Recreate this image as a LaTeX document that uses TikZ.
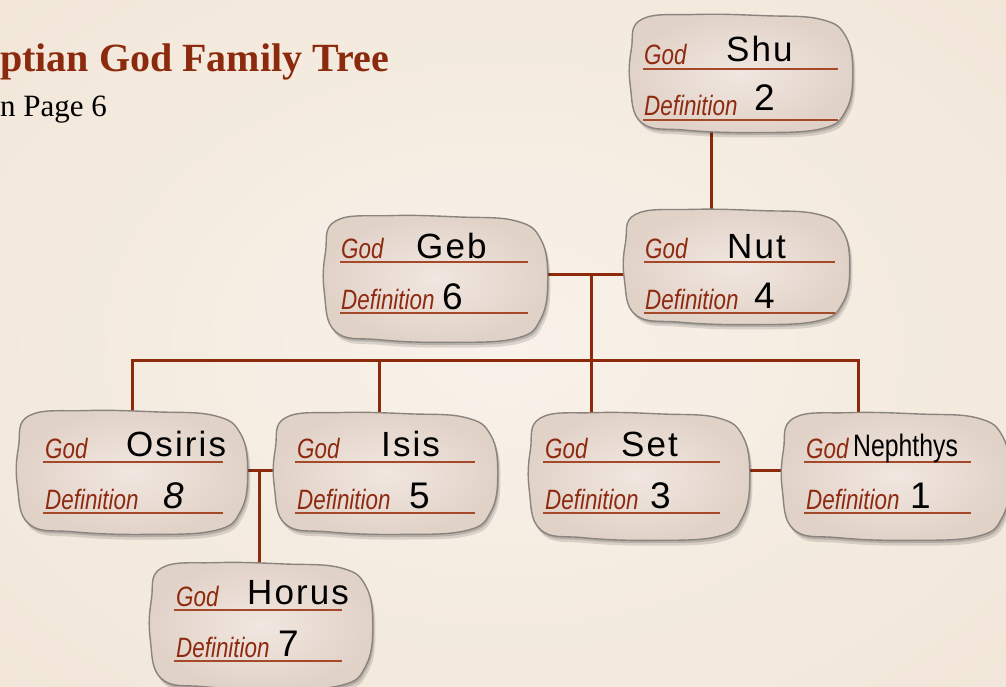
\documentclass[tikz,border=0pt]{standalone}
\usepackage{fontspec}
\setmainfont{Liberation Serif}
\newfontfamily\lblfont[FakeStretch=0.8]{Liberation Sans}
\newfontfamily\handfont[LetterSpace=6]{Liberation Sans}
\usetikzlibrary{calc}
\definecolor{bgc}{HTML}{F9F2EA}
\definecolor{bgd}{HTML}{F1E6D8}
\definecolor{titlered}{HTML}{8C2A0E}
\definecolor{lblred}{HTML}{8E2A10}
\definecolor{rulered}{HTML}{A44A2A}
\definecolor{linkred}{HTML}{8E2A0C}
\definecolor{stonein}{HTML}{F1E7E0}
\definecolor{stoneout}{HTML}{E1D2C8}
\definecolor{stoneedge}{HTML}{8A847E}
\tikzset{
  stonebox/.style={inner sep=0pt, draw=none},
  lbl/.style={anchor=base west, inner sep=0pt, text=lblred, font=\lblfont\itshape\fontsize{28}{28}\selectfont},
  hand/.style={anchor=base west, inner sep=0pt, text=black, font=\handfont\fontsize{35}{35}\selectfont},
  handnum/.style={hand, font=\handfont\fontsize{37}{37}\selectfont},
  rule/.style={draw=rulered, line width=1.2pt},
  link/.style={draw=linkred, line width=3pt},
}
\newcommand\stonepath[4]{%
  \begin{scope}[shift={(#1,#2)}, xscale=#3, yscale=#4]
    \fill[black, opacity=0.12, shift={(0.012,0.04)}] plot[smooth cycle, tension=0.7] coordinates {(0.06,0.06) (0.3,0.02) (0.6,0.03) (0.85,0.06) (0.96,0.2) (0.99,0.5) (0.96,0.8) (0.85,0.95) (0.55,0.98) (0.25,0.96) (0.06,0.9) (0.01,0.6) (0.015,0.3)};
    \fill[black, opacity=0.15, shift={(0.006,0.02)}] plot[smooth cycle, tension=0.7] coordinates {(0.06,0.06) (0.3,0.02) (0.6,0.03) (0.85,0.06) (0.96,0.2) (0.99,0.5) (0.96,0.8) (0.85,0.95) (0.55,0.98) (0.25,0.96) (0.06,0.9) (0.01,0.6) (0.015,0.3)};
    \shade[inner color=stonein, outer color=stoneout, draw=stoneedge, line width=1.4pt] plot[smooth cycle, tension=0.7] coordinates {(0.06,0.06) (0.3,0.02) (0.6,0.03) (0.85,0.06) (0.96,0.2) (0.99,0.5) (0.96,0.8) (0.85,0.95) (0.55,0.98) (0.25,0.96) (0.06,0.9) (0.01,0.6) (0.015,0.3)};
  \end{scope}}
\begin{document}
\begin{tikzpicture}[x=1pt,y=-1pt]
\useasboundingbox (0,0) rectangle (1006,687);
\shade[inner color=bgc, outer color=bgd] (-200,-150) rectangle (1206,837);
% titles
\node[anchor=base west, inner sep=0pt, text=titlered, font=\bfseries\fontsize{40}{40}\selectfont] (title) at (0,72) {ptian God Family Tree};
\node[anchor=base west, inner sep=0pt, text=black, font=\fontsize{31}{31}\selectfont] (sub) at (0,117) {n Page 6};
% stone anchor nodes
\node[stonebox, minimum width=227pt, minimum height=123pt] (shu) at (741.5,73.5) {};
\node[stonebox, minimum width=230pt, minimum height=120pt] (nut) at (737,267) {};
\node[stonebox, minimum width=228pt, minimum height=132pt] (geb) at (436,279) {};
\node[stonebox, minimum width=235pt, minimum height=129pt] (osiris) at (132.5,472.5) {};
\node[stonebox, minimum width=228pt, minimum height=127pt] (isis) at (386,473.5) {};
\node[stonebox, minimum width=225pt, minimum height=133pt] (set) at (639.5,476.5) {};
\node[stonebox, minimum width=232pt, minimum height=133pt] (nephthys) at (896,476.5) {};
\node[stonebox, minimum width=227pt, minimum height=130pt] (horus) at (261.5,625) {};
% junction coordinates
\coordinate (jshu) at (711,170);
\coordinate (jgn) at (591,274);
\coordinate (bar) at (591,360);
\coordinate (bl) at (132,360);
\coordinate (bi) at (379,360);
\coordinate (br) at (858,360);
\coordinate (joi) at (259,470);
\coordinate (jsn) at (766,470);
% connectors
\draw[link] ([yshift=12pt]shu.south -| jshu) -- ([yshift=-14pt]nut.north -| jshu);
\draw[link] ([xshift=-12pt]geb.east |- jgn) -- ([xshift=12pt]nut.west |- jgn);
\draw[link] (jgn) -- (bar);
\draw[link] ([yshift=-14pt]osiris.north -| bl) -- (bl) -- (br) -- ([yshift=-14pt]nephthys.north -| br);
\draw[link] (bi) -- ([yshift=-14pt]isis.north -| bi);
\draw[link] (bar) -- ([yshift=-14pt]set.north -| bar);
\draw[link] ([xshift=-12pt]osiris.east |- joi) -- ([xshift=12pt]isis.west |- joi);
\draw[link] (joi) -- ([yshift=-14pt]horus.north -| joi);
\draw[link] ([xshift=-12pt]set.east |- jsn) -- ([xshift=12pt]nephthys.west |- jsn);
% stones
\stonepath{628}{12}{227}{123}
\stonepath{622}{207}{230}{120}
\stonepath{322}{213}{228}{132}
\stonepath{15}{408}{235}{129}
\stonepath{272}{410}{228}{127}
\stonepath{527}{410}{225}{133}
\stonepath{780}{410}{232}{133}
\stonepath{148}{560}{227}{132}
% Shu
\draw[rule] (643,69) -- (838,69); \draw[rule] (643,120) -- (838,120);
\node[lbl] (shu-g) at (644,65) {God};
\node[lbl] (shu-d) at (644,116) {Definition};
\node[hand] (shu-n) at (726,62) {Shu};
\node[handnum] (shu-v) at (754,111) {2};
% Nut
\draw[rule] (644,262) -- (835,262); \draw[rule] (644,313) -- (835,313);
\node[lbl] (nut-g) at (645,258) {God};
\node[lbl] (nut-d) at (645,309) {Definition};
\node[hand] (nut-n) at (727,258) {Nut};
\node[handnum] (nut-v) at (754,308) {4};
% Geb
\draw[rule] (340,262) -- (528,262); \draw[rule] (340,313) -- (528,313);
\node[lbl] (geb-g) at (341,258) {God};
\node[lbl] (geb-d) at (341,309) {Definition};
\node[hand] (geb-n) at (416,258) {Geb};
\node[handnum] (geb-v) at (442,309) {6};
% Osiris
\draw[rule] (43,462) -- (223,462); \draw[rule] (43,513) -- (223,513);
\node[lbl] (osiris-g) at (45,458) {God};
\node[lbl] (osiris-d) at (45,509) {Definition};
\node[hand] (osiris-n) at (126,456) {Osiris};
\node[handnum, font=\handfont\itshape\fontsize{37}{37}\selectfont] (osiris-v) at (163,508) {8};
% Isis
\draw[rule] (295,462) -- (475,462); \draw[rule] (295,513) -- (475,513);
\node[lbl] (isis-g) at (297,458) {God};
\node[lbl] (isis-d) at (297,509) {Definition};
\node[hand] (isis-n) at (381,456) {Isis};
\node[handnum] (isis-v) at (409,508) {5};
% Set
\draw[rule] (543,462) -- (720,462); \draw[rule] (543,513) -- (720,513);
\node[lbl] (set-g) at (545,458) {God};
\node[lbl] (set-d) at (545,509) {Definition};
\node[hand] (set-n) at (621,456) {Set};
\node[handnum] (set-v) at (650,508) {3};
% Nephthys
\draw[rule] (804,462) -- (971,462); \draw[rule] (804,513) -- (971,513);
\node[lbl] (nephthys-g) at (806,458) {God};
\node[lbl] (nephthys-d) at (806,509) {Definition};
\node[hand, font=\lblfont\fontsize{31}{31}\selectfont] (nephthys-n) at (853,456) {Nephthys};
\node[handnum] (nephthys-v) at (910,508) {1};
% Horus
\draw[rule] (174,610) -- (342,610); \draw[rule] (174,661) -- (342,661);
\node[lbl] (horus-g) at (176,606) {God};
\node[lbl] (horus-d) at (176,657) {Definition};
\node[hand] (horus-n) at (247,604) {Horus};
\node[handnum] (horus-v) at (278,656) {7};
\end{tikzpicture}
\end{document}
